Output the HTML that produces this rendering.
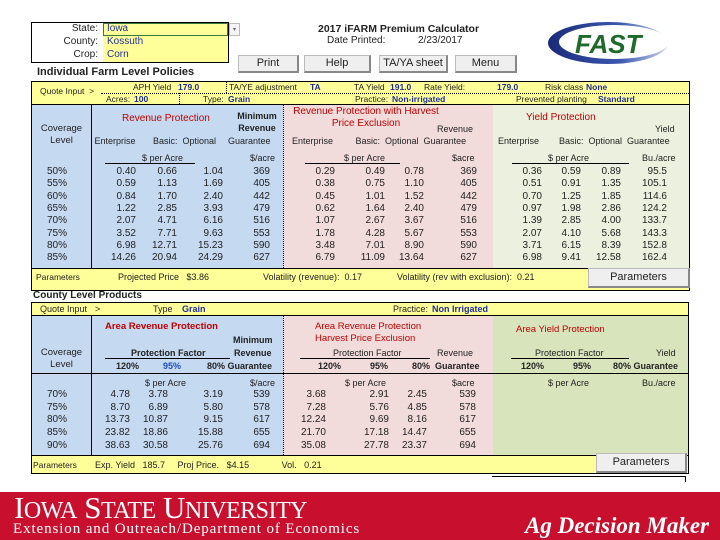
<!DOCTYPE html>
<html><head><meta charset="utf-8">
<style>
*{margin:0;padding:0;box-sizing:border-box}
body{width:720px;height:540px;position:relative;background:#fff;font-family:"Liberation Sans",Arial,sans-serif;font-size:9px;color:#222;overflow:hidden}
.a{position:absolute;white-space:nowrap;line-height:12px}
.r{position:absolute;width:44px;text-align:right;white-space:nowrap;line-height:12px;font-size:10px}
.bx{position:absolute}
.red{color:#c00000}
.bl{color:#1f2f9f;font-weight:bold}
.btn{position:absolute;background:#efefef;border:1px solid #bbb;border-right:2px solid #888;border-bottom:2px solid #888;text-align:center;font-size:11px;line-height:15px}
.b{font-weight:bold}
.dl{position:absolute;border-left:1px dotted #000}
.y{font-size:8.5px}
</style></head><body>

<div class="bx" style="left:31px;top:22px;width:198px;height:41px;border:1px solid #000"></div>
<div class="bx" style="left:103px;top:23px;width:125px;height:39px;background:#ffff99"></div>
<div class="bx" style="left:103px;top:23px;width:125px;height:13px;border:1px solid #3a7a3a"></div>
<div class="bx" style="left:229px;top:23px;width:11px;height:13px;border:1px solid #bbb;background:#f4f4f4;font-size:6px;text-align:center;line-height:12px;color:#666">▾</div>
<div class="a" style="left:40px;top:23px;width:58px;text-align:right;font-size:10px">State:</div>
<div class="a" style="left:40px;top:36px;width:58px;text-align:right;font-size:10px">County:</div>
<div class="a" style="left:40px;top:49px;width:58px;text-align:right;font-size:10px">Crop:</div>
<div class="a" style="left:107px;top:23px;font-size:10px;color:#1f2f9f">Iowa</div>
<div class="a" style="left:107px;top:36px;font-size:10px;color:#1f2f9f">Kossuth</div>
<div class="a" style="left:107px;top:49px;font-size:10px;color:#1f2f9f">Corn</div>

<div class="a b" style="left:318px;top:23px;font-size:10.5px">2017 iFARM Premium Calculator</div>
<div class="a" style="left:327px;top:35px;font-size:10px">Date Printed:</div>
<div class="a" style="left:418px;top:35px;font-size:10px">2/23/2017</div>

<div class="btn" style="left:238px;top:55px;width:61px;height:18px">Print</div>
<div class="btn" style="left:304px;top:55px;width:67px;height:18px">Help</div>
<div class="btn" style="left:379px;top:55px;width:69px;height:18px">TA/YA sheet</div>
<div class="btn" style="left:455px;top:55px;width:62px;height:18px">Menu</div>

<svg class="bx" style="left:545px;top:20px" width="130" height="46">
<defs><linearGradient id="g" x1="0" x2="1"><stop offset="0" stop-color="#1a2a7a"/><stop offset="0.6" stop-color="#3b58b0"/><stop offset="1" stop-color="#c9d3ea"/></linearGradient></defs>
<ellipse cx="63" cy="23" rx="60" ry="21" fill="url(#g)"/>
<ellipse cx="69" cy="22" rx="55" ry="17" fill="#fff"/>
<text x="30" y="33" font-family="Liberation Sans" font-weight="bold" font-style="italic" font-size="26" fill="#1e6a2a">FAST</text>
</svg>

<div class="a b" style="left:37px;top:66px;font-size:11px">Individual Farm Level Policies</div>

<div class="bx" style="left:31px;top:81px;width:659px;height:210px;border:1px solid #000;background:#ffff99"></div>
<div class="bx" style="left:32px;top:104px;width:251px;height:164px;background:#c5d9f1"></div>
<div class="bx" style="left:283px;top:104px;width:210px;height:164px;background:#f2dcdb"></div>
<div class="bx" style="left:493px;top:104px;width:196px;height:164px;background:#ebf1de"></div>
<div class="bx" style="left:91px;top:104px;width:1px;height:164px;background:#000"></div>
<div class="dl" style="left:283px;top:104px;height:164px"></div>
<div class="bx" style="left:101px;top:93px;width:588px;border-top:1px dotted #000"></div>
<div class="dl" style="left:226px;top:82px;height:11px"></div>
<div class="dl" style="left:179px;top:93px;height:11px"></div>
<div class="bx" style="left:31px;top:104px;width:659px;height:1px;background:#000"></div>

<div class="a y" style="left:40px;top:85px">Quote Input &nbsp;&gt;</div>
<div class="a y" style="left:133px;top:81px">APH Yield</div><div class="a bl y" style="left:178px;top:81px">179.0</div>
<div class="a y" style="left:229px;top:81px">TA/YE adjustment</div><div class="a bl y" style="left:310px;top:81px">TA</div>
<div class="a y" style="left:354px;top:81px">TA Yield</div><div class="a bl y" style="left:390px;top:81px">191.0</div>
<div class="a y" style="left:424px;top:81px">Rate Yield:</div><div class="a bl y" style="left:497px;top:81px">179.0</div>
<div class="a y" style="left:545px;top:81px">Risk class</div><div class="a bl y" style="left:586px;top:81px">None</div>
<div class="a y" style="left:106px;top:93px">Acres:</div><div class="a bl y" style="left:134px;top:93px">100</div>
<div class="a y" style="left:203px;top:93px">Type:</div><div class="a bl y" style="left:228px;top:93px">Grain</div>
<div class="a y" style="left:355px;top:93px">Practice:</div><div class="a bl y" style="left:392px;top:93px">Non-irrigated</div>
<div class="a y" style="left:516px;top:93px">Prevented planting</div><div class="a bl y" style="left:598px;top:93px">Standard</div>

<div class="a" style="left:32px;top:123px;width:59px;text-align:center;line-height:12px;font-size:9.5px">Coverage<br>Level</div>
<div class="a red" style="left:122px;top:113px;font-size:10px">Revenue Protection</div>
<div class="a b" style="left:232px;top:110px;width:50px;text-align:center;font-size:9px;line-height:12px">Minimum<br>Revenue</div>
<div class="a" style="left:92px;top:135px;font-size:9px">&nbsp;Enterprise &nbsp; &nbsp; &nbsp; Basic: &nbsp;Optional</div>
<div class="a" style="left:228px;top:135px;font-size:9px">Guarantee</div>
<div class="a" style="left:142px;top:152px;font-size:9px">$ per Acre</div>
<div class="bx" style="left:105px;top:163px;width:90px;height:1px;background:#000"></div>
<div class="a" style="left:250px;top:152px">$/acre</div>

<div class="a red" style="left:286px;top:106px;width:160px;text-align:center;font-size:10px;line-height:12px">Revenue Protection with Harvest<br>Price Exclusion</div>
<div class="a" style="left:437px;top:123px">Revenue</div>
<div class="a" style="left:292px;top:135px">Enterprise &nbsp; &nbsp; &nbsp; &nbsp; Basic: &nbsp;Optional &nbsp;Guarantee</div>
<div class="a" style="left:344px;top:152px">$ per Acre</div>
<div class="bx" style="left:305px;top:163px;width:95px;height:1px;background:#000"></div>
<div class="a" style="left:452px;top:152px">$acre</div>

<div class="a red" style="left:526px;top:112px;font-size:10px">Yield Protection</div>
<div class="a" style="left:655px;top:123px">Yield</div>
<div class="a" style="left:498px;top:135px">Enterprise &nbsp; &nbsp; &nbsp; &nbsp;Basic: &nbsp;Optional &nbsp;Guarantee</div>
<div class="a" style="left:548px;top:152px">$ per Acre</div>
<div class="bx" style="left:512px;top:163px;width:117px;height:1px;background:#000"></div>
<div class="a" style="left:642px;top:152px">Bu./acre</div>

<div style="position:absolute;left:0;top:166px">
<div class="r" style="left:23px;top:0">50%</div><div class="r" style="left:23px;top:12.3px">55%</div><div class="r" style="left:23px;top:24.6px">60%</div><div class="r" style="left:23px;top:36.9px">65%</div><div class="r" style="left:23px;top:49.2px">70%</div><div class="r" style="left:23px;top:61.5px">75%</div><div class="r" style="left:23px;top:73.8px">80%</div><div class="r" style="left:23px;top:86.1px">85%</div>
<div class="r" style="left:92px;top:0">0.40</div><div class="r" style="left:92px;top:12.3px">0.59</div><div class="r" style="left:92px;top:24.6px">0.84</div><div class="r" style="left:92px;top:36.9px">1.22</div><div class="r" style="left:92px;top:49.2px">2.07</div><div class="r" style="left:92px;top:61.5px">3.52</div><div class="r" style="left:92px;top:73.8px">6.98</div><div class="r" style="left:92px;top:86.1px">14.26</div>
<div class="r" style="left:133px;top:0">0.66</div><div class="r" style="left:133px;top:12.3px">1.13</div><div class="r" style="left:133px;top:24.6px">1.70</div><div class="r" style="left:133px;top:36.9px">2.85</div><div class="r" style="left:133px;top:49.2px">4.71</div><div class="r" style="left:133px;top:61.5px">7.71</div><div class="r" style="left:133px;top:73.8px">12.71</div><div class="r" style="left:133px;top:86.1px">20.94</div>
<div class="r" style="left:179px;top:0">1.04</div><div class="r" style="left:179px;top:12.3px">1.69</div><div class="r" style="left:179px;top:24.6px">2.40</div><div class="r" style="left:179px;top:36.9px">3.93</div><div class="r" style="left:179px;top:49.2px">6.16</div><div class="r" style="left:179px;top:61.5px">9.63</div><div class="r" style="left:179px;top:73.8px">15.23</div><div class="r" style="left:179px;top:86.1px">24.29</div>
<div class="r" style="left:226px;top:0">369</div><div class="r" style="left:226px;top:12.3px">405</div><div class="r" style="left:226px;top:24.6px">442</div><div class="r" style="left:226px;top:36.9px">479</div><div class="r" style="left:226px;top:49.2px">516</div><div class="r" style="left:226px;top:61.5px">553</div><div class="r" style="left:226px;top:73.8px">590</div><div class="r" style="left:226px;top:86.1px">627</div>

<div class="r" style="left:291px;top:0">0.29</div><div class="r" style="left:291px;top:12.3px">0.38</div><div class="r" style="left:291px;top:24.6px">0.45</div><div class="r" style="left:291px;top:36.9px">0.62</div><div class="r" style="left:291px;top:49.2px">1.07</div><div class="r" style="left:291px;top:61.5px">1.78</div><div class="r" style="left:291px;top:73.8px">3.48</div><div class="r" style="left:291px;top:86.1px">6.79</div>
<div class="r" style="left:341px;top:0">0.49</div><div class="r" style="left:341px;top:12.3px">0.75</div><div class="r" style="left:341px;top:24.6px">1.01</div><div class="r" style="left:341px;top:36.9px">1.64</div><div class="r" style="left:341px;top:49.2px">2.67</div><div class="r" style="left:341px;top:61.5px">4.28</div><div class="r" style="left:341px;top:73.8px">7.01</div><div class="r" style="left:341px;top:86.1px">11.09</div>
<div class="r" style="left:380px;top:0">0.78</div><div class="r" style="left:380px;top:12.3px">1.10</div><div class="r" style="left:380px;top:24.6px">1.52</div><div class="r" style="left:380px;top:36.9px">2.40</div><div class="r" style="left:380px;top:49.2px">3.67</div><div class="r" style="left:380px;top:61.5px">5.67</div><div class="r" style="left:380px;top:73.8px">8.90</div><div class="r" style="left:380px;top:86.1px">13.64</div>
<div class="r" style="left:433px;top:0">369</div><div class="r" style="left:433px;top:12.3px">405</div><div class="r" style="left:433px;top:24.6px">442</div><div class="r" style="left:433px;top:36.9px">479</div><div class="r" style="left:433px;top:49.2px">516</div><div class="r" style="left:433px;top:61.5px">553</div><div class="r" style="left:433px;top:73.8px">590</div><div class="r" style="left:433px;top:86.1px">627</div>

<div class="r" style="left:498px;top:0">0.36</div><div class="r" style="left:498px;top:12.3px">0.51</div><div class="r" style="left:498px;top:24.6px">0.70</div><div class="r" style="left:498px;top:36.9px">0.97</div><div class="r" style="left:498px;top:49.2px">1.39</div><div class="r" style="left:498px;top:61.5px">2.07</div><div class="r" style="left:498px;top:73.8px">3.71</div><div class="r" style="left:498px;top:86.1px">6.98</div>
<div class="r" style="left:537px;top:0">0.59</div><div class="r" style="left:537px;top:12.3px">0.91</div><div class="r" style="left:537px;top:24.6px">1.25</div><div class="r" style="left:537px;top:36.9px">1.98</div><div class="r" style="left:537px;top:49.2px">2.85</div><div class="r" style="left:537px;top:61.5px">4.10</div><div class="r" style="left:537px;top:73.8px">6.15</div><div class="r" style="left:537px;top:86.1px">9.41</div>
<div class="r" style="left:577px;top:0">0.89</div><div class="r" style="left:577px;top:12.3px">1.35</div><div class="r" style="left:577px;top:24.6px">1.85</div><div class="r" style="left:577px;top:36.9px">2.86</div><div class="r" style="left:577px;top:49.2px">4.00</div><div class="r" style="left:577px;top:61.5px">5.68</div><div class="r" style="left:577px;top:73.8px">8.39</div><div class="r" style="left:577px;top:86.1px">12.58</div>
<div class="r" style="left:623px;top:0">95.5</div><div class="r" style="left:623px;top:12.3px">105.1</div><div class="r" style="left:623px;top:24.6px">114.6</div><div class="r" style="left:623px;top:36.9px">124.2</div><div class="r" style="left:623px;top:49.2px">133.7</div><div class="r" style="left:623px;top:61.5px">143.3</div><div class="r" style="left:623px;top:73.8px">152.8</div><div class="r" style="left:623px;top:86.1px">162.4</div>
</div>

<div class="bx" style="left:31px;top:268px;width:659px;height:1px;background:#000"></div>
<div class="a" style="left:36px;top:271px;font-size:8.5px">Parameters</div>
<div class="a" style="left:118px;top:271px">Projected Price &nbsp; $3.86</div>
<div class="a" style="left:263px;top:271px">Volatility (revenue): &nbsp;0.17</div>
<div class="a" style="left:397px;top:271px">Volatility (rev with exclusion): &nbsp;0.21</div>
<div class="btn" style="left:588px;top:268px;width:102px;height:20px;line-height:17px">Parameters</div>

<div class="a b" style="left:33px;top:290px;font-size:10px">County Level Products</div>

<div class="bx" style="left:31px;top:302px;width:658px;height:172px;border:1px solid #000;background:#ffff99"></div>
<div class="bx" style="left:32px;top:315px;width:251px;height:140px;background:#c5d9f1"></div>
<div class="bx" style="left:283px;top:315px;width:210px;height:140px;background:#f2dcdb"></div>
<div class="bx" style="left:493px;top:315px;width:195px;height:140px;background:#d8e4bc"></div>
<div class="bx" style="left:31px;top:315px;width:658px;height:1px;background:#000"></div>
<div class="bx" style="left:91px;top:315px;width:1px;height:140px;background:#000"></div>
<div class="dl" style="left:283px;top:315px;height:140px"></div>
<div class="bx" style="left:31px;top:373px;width:658px;height:1px;background:#000"></div>
<div class="bx" style="left:31px;top:455px;width:658px;height:1px;background:#000"></div>

<div class="a" style="left:40px;top:303px">Quote Input</div><div class="a" style="left:95px;top:303px">&gt;</div>
<div class="a" style="left:153px;top:303px">Type</div><div class="a bl" style="left:182px;top:303px">Grain</div>
<div class="a" style="left:393px;top:303px">Practice:</div><div class="a bl" style="left:432px;top:303px">Non Irrigated</div>

<div class="a" style="left:32px;top:347px;width:59px;text-align:center;font-size:9.5px">Coverage<br>Level</div>
<div class="a red b" style="left:105px;top:321px;font-size:9.5px">Area Revenue Protection</div>
<div class="a b" style="left:233px;top:334px">Minimum</div>
<div class="a b" style="left:131px;top:347px">Protection Factor</div>
<div class="a b" style="left:234px;top:347px">Revenue</div>
<div class="bx" style="left:105px;top:358px;width:125px;height:1px;background:#000"></div>
<div class="a b" style="left:116px;top:360px">120%</div>
<div class="a b" style="left:163px;top:360px;color:#1f4fbf">95%</div>
<div class="a b" style="left:207px;top:360px">80% Guarantee</div>
<div class="a" style="left:145px;top:377px">$ per Acre</div>
<div class="a" style="left:250px;top:377px">$/acre</div>

<div class="a red" style="left:315px;top:321px;font-size:9.5px;line-height:12px">Area Revenue Protection<br>Harvest Price Exclusion</div>
<div class="a" style="left:333px;top:347px">Protection Factor</div>
<div class="a" style="left:437px;top:347px">Revenue</div>
<div class="bx" style="left:300px;top:358px;width:130px;height:1px;background:#000"></div>
<div class="a b" style="left:318px;top:360px">120%</div>
<div class="a b" style="left:370px;top:360px">95%</div>
<div class="a b" style="left:412px;top:360px">80% &nbsp;Guarantee</div>
<div class="a" style="left:345px;top:377px">$ per Acre</div>
<div class="a" style="left:452px;top:377px">$acre</div>

<div class="a red" style="left:516px;top:324px;font-size:9.5px">Area Yield Protection</div>
<div class="a" style="left:535px;top:347px">Protection Factor</div>
<div class="a" style="left:656px;top:347px">Yield</div>
<div class="bx" style="left:511px;top:358px;width:118px;height:1px;background:#000"></div>
<div class="a b" style="left:521px;top:360px">120%</div>
<div class="a b" style="left:573px;top:360px">95%</div>
<div class="a b" style="left:613px;top:360px">80% Guarantee</div>
<div class="a" style="left:548px;top:377px">$ per Acre</div>
<div class="a" style="left:642px;top:377px">Bu./acre</div>

<div style="position:absolute;left:0;top:389px">
<div class="r" style="left:23px;top:0">70%</div><div class="r" style="left:23px;top:12.7px">75%</div><div class="r" style="left:23px;top:25.4px">80%</div><div class="r" style="left:23px;top:38.1px">85%</div><div class="r" style="left:23px;top:50.8px">90%</div>
<div class="r" style="left:86px;top:0">4.78</div><div class="r" style="left:86px;top:12.7px">8.70</div><div class="r" style="left:86px;top:25.4px">13.73</div><div class="r" style="left:86px;top:38.1px">23.82</div><div class="r" style="left:86px;top:50.8px">38.63</div>
<div class="r" style="left:124px;top:0">3.78</div><div class="r" style="left:124px;top:12.7px">6.89</div><div class="r" style="left:124px;top:25.4px">10.87</div><div class="r" style="left:124px;top:38.1px">18.86</div><div class="r" style="left:124px;top:50.8px">30.58</div>
<div class="r" style="left:179px;top:0">3.19</div><div class="r" style="left:179px;top:12.7px">5.80</div><div class="r" style="left:179px;top:25.4px">9.15</div><div class="r" style="left:179px;top:38.1px">15.88</div><div class="r" style="left:179px;top:50.8px">25.76</div>
<div class="r" style="left:226px;top:0">539</div><div class="r" style="left:226px;top:12.7px">578</div><div class="r" style="left:226px;top:25.4px">617</div><div class="r" style="left:226px;top:38.1px">655</div><div class="r" style="left:226px;top:50.8px">694</div>
<div class="r" style="left:282px;top:0">3.68</div><div class="r" style="left:282px;top:12.7px">7.28</div><div class="r" style="left:282px;top:25.4px">12.24</div><div class="r" style="left:282px;top:38.1px">21.70</div><div class="r" style="left:282px;top:50.8px">35.08</div>
<div class="r" style="left:345px;top:0">2.91</div><div class="r" style="left:345px;top:12.7px">5.76</div><div class="r" style="left:345px;top:25.4px">9.69</div><div class="r" style="left:345px;top:38.1px">17.18</div><div class="r" style="left:345px;top:50.8px">27.78</div>
<div class="r" style="left:383px;top:0">2.45</div><div class="r" style="left:383px;top:12.7px">4.85</div><div class="r" style="left:383px;top:25.4px">8.16</div><div class="r" style="left:383px;top:38.1px">14.47</div><div class="r" style="left:383px;top:50.8px">23.37</div>
<div class="r" style="left:432px;top:0">539</div><div class="r" style="left:432px;top:12.7px">578</div><div class="r" style="left:432px;top:25.4px">617</div><div class="r" style="left:432px;top:38.1px">655</div><div class="r" style="left:432px;top:50.8px">694</div>
</div>

<div class="a" style="left:33px;top:459px;font-size:8.5px">Parameters</div>
<div class="a" style="left:95px;top:459px">Exp. Yield &nbsp; 185.7 &nbsp; &nbsp; Proj Price. &nbsp; $4.15 &nbsp; &nbsp; &nbsp; &nbsp; &nbsp; &nbsp; Vol. &nbsp; 0.21</div>
<div class="btn" style="left:596px;top:453px;width:91px;height:20px;line-height:17px">Parameters</div>
<div class="bx" style="left:492px;top:476px;width:194px;height:1px;background:#000"></div>
<div class="bx" style="left:685px;top:476px;width:1px;height:6px;background:#000"></div>

<div class="bx" style="left:0;top:492px;width:720px;height:48px;background:#c8102e"></div>
<div class="a" style="left:14px;top:492px;font-family:'Liberation Serif',serif;color:#fff;font-size:31px;line-height:32px;letter-spacing:-0.5px">I<span style="font-size:24px">OWA</span> S<span style="font-size:24px">TATE</span> U<span style="font-size:24px">NIVERSITY</span></div>
<div class="a" style="left:13px;top:521px;font-family:'Liberation Serif',serif;color:#fff;font-size:15px;line-height:17px;letter-spacing:0.9px">Extension and Outreach/Department of Economics</div>
<div class="a" style="left:525px;top:512px;font-family:'Liberation Serif',serif;color:#fff;font-size:23px;line-height:28px;font-style:italic;font-weight:bold">Ag Decision Maker</div>
</body></html>
